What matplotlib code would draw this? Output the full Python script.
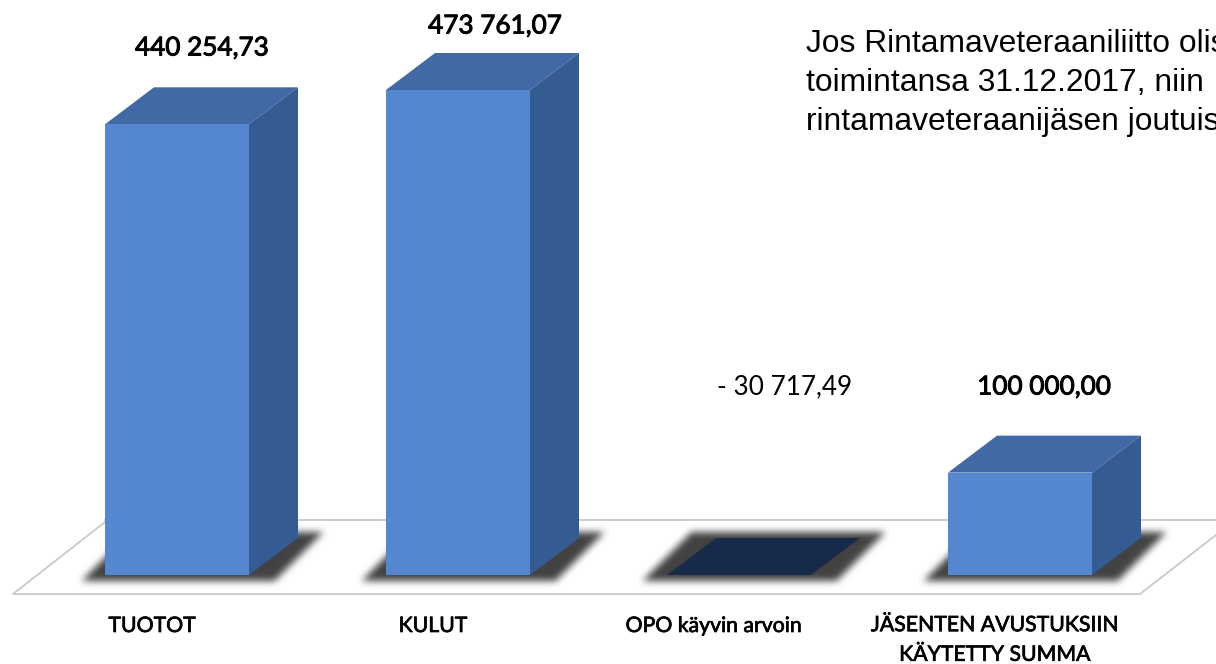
import matplotlib
matplotlib.use('Agg')
import matplotlib.pyplot as plt
import matplotlib.patheffects as pe
from matplotlib.patches import Polygon
from matplotlib.path import Path
import numpy as np

categories = ['TUOTOT', 'KULUT', 'OPO käyvin arvoin', 'JÄSENTEN AVUSTUKSIIN\nKÄYTETTY SUMMA']
values = [440254.73, 473761.07, -30717.49, 100000.00]
value_labels = ['440 254,73', '473 761,07', '- 30 717,49', '100 000,00']
note_lines = ['Jos Rintamaveteraaniliitto olisi', 'toimintansa 31.12.2017, niin', 'rintamaveteraanijäsen joutuisi']

W, H = 1216, 664
FIRST_X = 177.0
STEP_X = 281.0
BASE_Y = 575.0
PX_PER_VALUE = 485.0 / 473761.07

BAR_W = 144 / STEP_X
DEPTH_X = 49 / STEP_X
DEPTH_Y = 37 / PX_PER_VALUE

FRONT = '#5586D0'
TOP = '#4169A6'
SIDE = '#345C92'
FLAT = '#182A49'
FLOOR = '#C9C9C9'

fig = plt.figure(figsize=(W / 100, H / 100), dpi=100)
ax = fig.add_axes([0, 0, 1, 1])
xlim = (-FIRST_X / STEP_X, (W - FIRST_X) / STEP_X)
ylim = (-(H - BASE_Y) / PX_PER_VALUE, BASE_Y / PX_PER_VALUE)
ax.axis('off')


def px(x):
    return (x - FIRST_X) / STEP_X


def py(y):
    return (BASE_Y - y) / PX_PER_VALUE


def blur(a, size=7, passes=3):
    kernel = np.ones(size) / size
    for _ in range(passes):
        a = np.apply_along_axis(lambda r: np.convolve(r, kernel, mode='same'), 0, a)
        a = np.apply_along_axis(lambda r: np.convolve(r, kernel, mode='same'), 1, a)
    return a


# floor outline
ax.plot([px(105), px(13), px(1140), px(1216)], [py(522), py(594), py(594), py(535)],
        color=FLOOR, lw=1.3, zorder=1)
ax.plot([px(105), px(1216)], [py(520), py(520)], color=FLOOR, lw=1.3, zorder=1)

# soft shadow on the floor under each bar
gx, gy = np.meshgrid(np.linspace(xlim[0], xlim[1], W), np.linspace(ylim[1], ylim[0], H))
points = np.column_stack([gx.ravel(), gy.ravel()])
mask = np.zeros(H * W)
grow_l = 24 / STEP_X
grow_r = 26 / STEP_X
pad = 6 / PX_PER_VALUE
for i in range(len(values)):
    left = i - BAR_W / 2
    right = i + BAR_W / 2
    shadow = [(left - grow_l, -pad), (right + grow_r, -pad),
              (right + DEPTH_X + grow_r, DEPTH_Y + pad), (left + DEPTH_X - grow_l, DEPTH_Y + pad)]
    mask[Path(shadow).contains_points(points)] = 1
shade = np.zeros((H, W, 4))
shade[..., :3] = 0.22
shade[..., 3] = blur(mask.reshape(H, W)) * 0.95
ax.imshow(shade, extent=(xlim[0], xlim[1], ylim[0], ylim[1]), aspect='auto', zorder=2, interpolation='nearest')

for i, v in enumerate(values):
    left = i - BAR_W / 2
    right = i + BAR_W / 2
    h = max(v, 0)

    # top and side faces
    top_color = FLAT if v < 0 else TOP
    ax.add_patch(Polygon([(left, h), (right, h), (right + DEPTH_X, h + DEPTH_Y), (left + DEPTH_X, h + DEPTH_Y)],
                         closed=True, fc=top_color, ec='none', zorder=3))
    if h > 0:
        ax.add_patch(Polygon([(right, 0), (right + DEPTH_X, DEPTH_Y), (right + DEPTH_X, h + DEPTH_Y), (right, h)],
                             closed=True, fc=SIDE, ec='none', zorder=3))
        ax.bar(i, h, width=BAR_W, color=FRONT, zorder=4)

label_y = [626, 626, 626, 640]
for i, s in enumerate(categories):
    t = ax.text(i - 25 / STEP_X, py(label_y[i]), s, ha='center', va='center', family='Lato',
                fontsize=15.3, linespacing=1.6, color='black')
    t.set_path_effects([pe.withStroke(linewidth=0.5, foreground='black')])

value_x = [202, 495, 785, 1044]
value_y = [48, 26, 387, 387]
for i, s in enumerate(value_labels):
    t = ax.text(px(value_x[i]), py(value_y[i]), s, ha='center', va='center', family='Lato', fontsize=18.8,
                color='black')
    if values[i] > 0:
        t.set_path_effects([pe.withStroke(linewidth=0.7, foreground='black')])

for y, line in zip([52, 91, 130], note_lines):
    ax.text(px(806), py(y), line, ha='left', va='baseline', family='Liberation Sans', fontsize=22.9,
            color='black', clip_on=True)

ax.set_xlim(*xlim)
ax.set_ylim(*ylim)
fig.savefig('out.png', dpi=100)
